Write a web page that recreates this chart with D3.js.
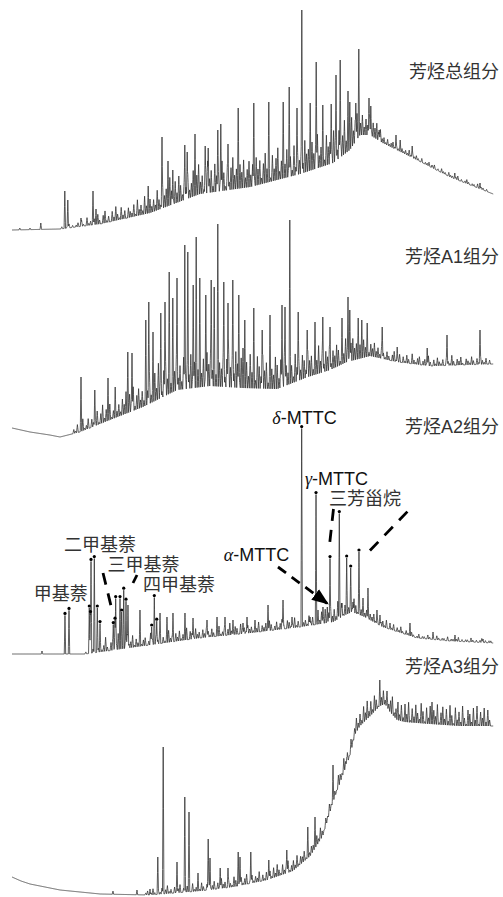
<!DOCTYPE html>
<html>
<head>
<meta charset="utf-8">
<script src="https://cdn.jsdelivr.net/npm/d3@7"></script>
<style>
  html, body { margin: 0; padding: 0; background: #fff; }
  svg { display: block; }
</style>
</head>
<body>
<svg id="chart" width="503" height="897"></svg>
<script>
// ---------------------------------------------------------------
// Aromatic-fraction chromatograms: retention time (min) vs abundance
// ---------------------------------------------------------------

const titles = ["芳烃总组分", "芳烃A1组分", "芳烃A2组分", "芳烃A3组分"];

// --- total aromatic fraction ---
const totBaseT = [0, 8, 14.7, 23, 31.3, 39.7, 48, 53.5, 56.3, 58, 59.7, 61.8, 67.5, 73, 80.2];
const totBaseV = [0.5, 1, 3.5, 9, 18.5, 22, 28.5, 34, 40.5, 48, 48, 44, 35.5, 27, 18.5];
const totPeakT = [1.3, 3, 4.8, 8.8, 9.3, 11.5, 13.5, 14, 22.7, 25, 26, 26.8, 28.8, 29.2, 30.5, 32.2, 32.7,
  34.3, 34.8, 36, 37.7, 40.3, 42.8, 45.2, 46.2, 47.5, 48.3, 49.7, 50.7, 51.8, 53.2, 54, 54.7,
  56, 56.3, 57.3, 57.8, 59.5, 59.8, 61.2, 64, 64.7, 66.7, 70, 73.8, 78];
const totPeakV = [1.5, 1.5, 4, 20, 15.5, 6.5, 20, 11, 22.5, 47, 35, 30.5, 43, 39.5, 48.5, 42.5, 41.5,
  50.5, 53.5, 43.5, 61.5, 64, 64.5, 64.5, 72, 61.5, 110.5, 64, 84.5, 63, 63.5, 78, 85.5,
  70, 64.5, 64, 91, 66.5, 62.5, 50.5, 48, 45.5, 42.5, 33, 29, 24];
// unresolved minor peaks above the baseline, one every 0.3 min from totMinorT0
const totMinorT0 = 8;
const totMinor = [
  0, 1, 0, 0, 1, 2, 0, 1, 0, 1,
  2, 0, 3, 1, 0, 4, 1, 2, 0, 3,
  1, 5, 2, 0, 4, 6, 1, 3, 0, 5, 2, 7, 3, 1, 6, 2, 4, 0, 5, 3,
  2, 6, 1, 8, 3, 5, 2, 9, 4, 1, 7, 3, 6,
  3, 10, 5, 2, 12, 6, 9, 3, 14, 7, 2, 11, 5, 13, 8, 3, 10, 6, 12, 4,
  7, 13, 3, 10, 15, 6, 9, 2, 12, 16, 7, 11, 3, 14, 8, 10, 5, 15, 9, 2, 13, 4, 11, 16, 7, 10, 3, 12, 8, 14, 5, 9, 13,
  6, 11, 4, 14, 8, 12, 3, 10, 15, 7, 9, 2, 13, 6, 11, 16, 4, 9, 12, 7, 14, 5, 10, 3, 15, 4, 11,
  7, 13, 5, 16, 9, 11, 4, 14, 8, 12, 17, 6, 10, 13, 3, 15, 9, 11, 7, 16, 12, 5, 14, 8, 10, 17, 6, 12, 4, 15, 7, 11, 13,
  9, 6, 10, 4, 8, 5, 9, 3, 7, 5, 8, 4, 6,
  2, 3, 1, 3, 1, 2, 3, 1, 2, 1, 3, 2, 1, 2, 1, 3, 1, 2, 1, 2,
  1, 0, 2, 0, 1, 1, 2, 0, 1, 2, 0, 1, 0, 2, 1, 1, 0, 2, 1, 1, 0, 1, 2, 0, 1, 0, 1, 2, 1, 0, 1, 1, 0, 2, 0, 1, 1, 0, 1, 0];

// --- A1 fraction ---
const a1BaseT = [0, 1.5, 3, 6.3, 8, 11.3, 16.3, 21.8, 27.5, 33, 38.5, 44.2, 49.3, 53, 55.8, 59.7, 64.2, 69.7, 80.2];
const a1BaseV = [4.5, 3.5, 2.5, 1, 0, 2.5, 8.5, 15, 23.5, 25.5, 24.5, 24, 30, 33.5, 37.5, 40.5, 37.5, 35.5, 36.5];
const a1PeakT = [11.5, 13.8, 16, 17.2, 19.3, 20, 22.3, 22.8, 23.5, 24.8, 25.5, 26.2, 26.8, 27.5, 28.8, 29.3,
  30.2, 30.7, 31.3, 32.3, 33.2, 33.7, 34.3, 35.3, 36, 36.8, 37.8, 38.8, 40.3, 41.7, 43, 45, 45.5,
  46.3, 47.7, 49.2, 50.5, 51.8, 53, 55, 56, 56.3, 57.7, 58.3, 59.2, 61.7, 64.2, 69.2, 72.5, 78];
const a1PeakV = [30, 23.5, 29.5, 25, 42.5, 42, 58.5, 67.5, 52.5, 62, 67.5, 82.5, 69.5, 79.5, 96, 92.5,
  76, 100, 79.5, 71, 78.5, 75, 106.5, 77.5, 67, 78.5, 71, 58.5, 64.5, 53.5, 61, 66, 65,
  108.5, 62.5, 53.5, 57.5, 60, 55, 59.5, 70, 63.5, 59.5, 58.5, 57, 55, 45, 44.5, 51, 53.5];
const a1MinorT0 = 10;
const a1Minor = [
  0, 2, 1, 4, 0, 3, 6, 1, 2, 5, 0, 4, 2,
  3, 7, 1, 5, 9, 2, 6, 3, 8, 1, 4, 9, 3, 6,
  2, 8, 5, 11, 3, 9, 6, 12, 2, 7, 10, 4, 8,
  3, 12, 7, 16, 4, 10, 14, 6, 18, 9, 3, 13, 17, 8, 11, 5, 15, 10, 18, 6, 12, 4, 16, 9, 14, 7, 17,
  5, 13, 18, 9, 20, 7, 14, 4, 17, 11, 19, 8, 15, 6, 20, 12, 9, 17, 5, 14, 19, 10, 16, 7, 18, 12, 4, 15, 20, 9, 13, 6, 17,
  8, 14, 4, 16, 11, 6, 17, 9, 13, 3, 15, 10, 7, 16, 12, 5, 14, 8, 17, 10,
  6, 13, 9, 3, 14, 7, 11, 5, 12, 9, 4, 13, 8, 10, 3, 12, 7, 14, 6, 11,
  4, 10, 7, 12, 3, 9, 6, 11, 8, 2, 10, 5, 12, 7, 3, 9, 11, 6, 8, 4,
  7, 3, 9, 5, 8, 2, 6, 4, 7, 3, 5, 2, 6,
  3, 1, 4, 2, 0, 3, 5, 1, 2, 4, 0, 3, 1, 4, 2, 0, 5, 2, 1, 3, 4, 0, 2, 3, 1, 5, 2, 0, 3, 1,
  4, 2, 1, 3, 0, 4, 2, 1, 5, 2, 0, 3, 2, 4, 1, 0, 3, 2, 1, 4, 2, 0, 3, 1, 4, 2, 1, 3, 0, 2];

// --- A2 fraction ---
const a2BaseT = [0, 12.2, 14.7, 23, 31.3, 39.7, 48, 53.5, 55.5, 56.7, 58.8, 61.8, 67.5, 73, 80.2];
const a2BaseV = [0.5, 0.5, 1.5, 5, 8.5, 11, 14, 16.5, 20, 21.5, 19, 14, 8.5, 7, 6];
const a2PeakT = [5, 19.33, 21.33, 24.67, 25.83, 26.83, 28.83, 30.17, 32.5, 34.17, 35.5, 36.83, 38.5, 39.17,
  40.5, 42.67, 45.17, 46.67, 49.67, 51, 51.83, 52.55, 55, 56.83, 58.5, 59.33, 60.83, 61.33,
  63, 66.33, 70.17, 73.83, 78.5];
const a2PeakV = [2, 25, 22.5, 21, 19, 21, 21, 18.5, 17.5, 19, 19, 17.5, 16, 19,
  17.5, 25, 27.5, 19, 19, 22.5, 24, 24, 26, 26.5, 28.5, 33.5, 22.5, 20,
  16, 16, 11.5, 10, 8];
// identified compounds (marked with a dot on the apex)
const a2MarkT = [8.83, 9.5,                                   // 甲基萘
  12.88, 13.08, 13.17, 13.72, 14.22, 14.67,                   // 二甲基萘
  16.88, 17.17, 17.28, 18.0, 18.28, 18.62, 19.0,              // 三甲基萘
  23.28, 23.72, 24.12,                                        // 四甲基萘
  48.28, 50.67,                                               // δ-, γ-MTTC
  53.0, 54.55, 55.78, 56.45, 57.83];                          // 三芳甾烷
const a2MarkV = [19.8, 22.3,
  23.5, 20.7, 46.8, 48.2, 23.5, 15.7,
  15.2, 17.4, 28.2, 28.2, 21.5, 32.4, 26.9,
  14, 28.7, 16.9,
  113.2, 80.2,
  48.2, 70.7, 48.5, 43.5, 51.5];
const a2MinorT0 = 12;
const a2Minor = [
  0, 1, 0, 1, 0, 2, 1, 0,
  2, 5, 1, 3, 7, 2, 0, 4, 6, 1, 3, 8, 2, 5, 1, 4, 7, 2, 3, 6, 1, 4,
  2, 5, 1, 3, 4, 0, 2, 6, 3, 1, 4, 2, 5, 0, 3, 1, 4, 6, 2, 3, 0, 4, 2, 5, 1, 3, 2, 6, 0, 4, 3, 1,
  5, 2, 3, 0, 4, 2, 5, 3, 1, 4, 2, 0, 3, 5, 1, 2, 4, 0, 3, 6, 2, 1, 4, 3, 0, 5, 2, 3, 1, 4, 2,
  3, 1, 4, 2, 5, 0, 3, 2, 4, 1, 5, 3, 0, 2, 4, 1, 3, 5, 2, 0, 4, 3, 1, 2, 5, 1, 3, 0, 4, 2, 3, 1, 5, 2, 4, 0, 3,
  4, 2, 6, 3, 7, 1, 5, 8, 3, 6, 2, 9, 4, 7, 1, 5, 8, 3, 6, 2, 7, 4, 1, 5, 3, 6, 2, 4, 1, 3,
  2, 4, 1, 3, 0, 2, 3, 1, 4, 0, 2, 1, 3, 0, 2, 1, 3, 1, 0, 2,
  1, 0, 2, 1, 0, 1, 2, 0, 1, 1, 0, 2, 1, 0, 1, 0, 2, 1, 0, 1, 1, 0, 2, 0, 1, 1, 0, 1, 2, 0,
  1, 0, 1, 1, 0, 2, 1, 0, 1, 0, 1, 2, 0, 1, 0, 1, 1];

// --- A3 fraction ---
const a3BaseT = [0, 1.5, 3, 8, 14.7, 23, 31.3, 36.8, 42.5, 46.8, 49.7, 51.8, 53.5, 55.2, 56.3, 57.2, 58,
  59.7, 61.3, 62.2, 63, 64.2, 65.5, 69.7, 74.7, 80.2];
const a3BaseV = [9.5, 7.5, 6, 3, 1, 0.5, 2.5, 4.5, 8, 12.5, 20, 30, 47, 61, 70, 81, 85,
  90, 95, 96, 92, 88, 87, 86, 85, 85];
const a3PeakT = [16.83, 20.83, 23, 24.3, 25.2, 27.5, 28.8, 29.5, 31, 32.7, 33, 34.7, 36, 37.7, 38, 39.8,
  42.8, 45.8, 49.3, 50.5, 53.5, 55.8, 61.3, 64.33, 70];
const a3PeakV = [2.5, 3, 3.5, 19.5, 74.5, 17, 49.5, 42, 11.5, 28.5, 19, 14, 14, 22, 19.5, 22,
  18, 23, 34.5, 39.5, 65.5, 69.5, 108, 97, 97];
const a3MinorT0 = 22;
const a3Minor = [
  0, 1, 2, 0, 1, 3, 1, 0, 2, 1, 3, 0, 2, 4, 1, 2, 0, 3, 1, 2, 4, 0, 2, 1, 3, 2, 0, 4, 1, 2,
  3, 1, 4, 2, 0, 3, 5, 1, 2, 4, 0, 3, 1, 5, 2, 3, 0, 4, 2, 1, 5, 3, 0, 2, 4, 1, 3, 5, 0, 2,
  4, 1, 3, 2, 5, 0, 3, 1, 4, 2,
  4, 1, 5, 2, 6, 3, 1, 5, 2, 4, 6, 1, 3, 5, 2, 6, 1, 4, 3, 5, 1, 6, 2, 4, 3, 1, 5, 2, 6, 3, 1, 4, 2,
  5, 2, 7, 3, 1, 6, 4, 2, 7, 3, 5, 1, 6, 2, 4, 7, 3,
  6, 2, 8, 4, 9, 3, 7, 2, 8, 5, 1, 9, 4, 7, 2, 8, 3, 6, 9, 2, 5, 8, 3,
  8, 2, 9, 4, 10, 1, 7, 3, 9, 5, 2, 10, 6, 1, 8, 3, 9, 2, 7, 4, 10, 1, 6, 9, 3, 8, 2, 10, 5, 1,
  9, 3, 7, 2, 10, 4, 1, 8, 6, 2, 9, 3, 10, 1, 7, 4, 9, 2, 8, 3];

// --- annotations of the A2 trace (positions in retention time / abundance) ---
const a2LabelText = ["甲基萘", "二甲基萘", "三甲基萘", "四甲基萘"];
const a2LabelT = [8.13, 14.67, 21.9, 27.83];
const a2LabelV = [30.5, 55, 45, 35.25];
const mttcGreek = ["α", "δ", "γ"];
const mttcT = [40.75, 48.75, 54.08];
const mttcV = [50.25, 118.75, 88];
const steraneLabel = { text: "三芳甾烷", t: 58.83, v: 78.25 };
// dashed leader lines [t1, v1, t2, v2]
const leaders = [
  [15.17, 41, 16.67, 22.5],
  [20.83, 40, 20.17, 36],
  [53.58, 73, 52.88, 54],
  [65.9, 71.7, 59.1, 50.5]
];
const arrowLeader = [44.33, 44, 52.67, 25.5];

// ---------------------------------------------------------------
// layout
// ---------------------------------------------------------------
const W = 503, H = 897;
const panelZero = [231, 437, 655, 896];     // pixel row of zero abundance per trace
const titleY = [71.5, 256.5, 426.5, 666.5];
const PX_PER_UNIT = 2;
const PEAK_HW = 0.12;        // half width of a resolved peak (min)
const MINOR_STEP = 0.3;      // spacing of the unresolved minor peaks (min)

const fractions = [
  { baseT: totBaseT, baseV: totBaseV, peakT: totPeakT, peakV: totPeakV, m0: totMinorT0, minor: totMinor },
  { baseT: a1BaseT, baseV: a1BaseV, peakT: a1PeakT, peakV: a1PeakV, m0: a1MinorT0, minor: a1Minor },
  { baseT: a2BaseT, baseV: a2BaseV, peakT: a2PeakT.concat(a2MarkT), peakV: a2PeakV.concat(a2MarkV), m0: a2MinorT0, minor: a2Minor },
  { baseT: a3BaseT, baseV: a3BaseV, peakT: a3PeakT, peakV: a3PeakV, m0: a3MinorT0, minor: a3Minor }
];

const svg = d3.select("#chart");
svg.append("rect").attr("width", W).attr("height", H).attr("fill", "#fff");

const x = d3.scaleLinear().domain([0, 80]).range([12, 492]);
const yScales = panelZero.map(z => d3.scaleLinear().domain([0, 110]).range([z, z - 110 * PX_PER_UNIT]));

// sampled signal: baseline + strongest peak contribution at each time
function buildTrace(f) {
  const baseAt = d3.scaleLinear().domain(f.baseT).range(f.baseV).clamp(true);
  const tEnd = f.baseT[f.baseT.length - 1];
  const tris = f.peakT.map((t, i) => ({ c: t, a: Math.max(0, f.peakV[i] - baseAt(t)), w: PEAK_HW }));
  f.minor.forEach((a, i) => tris.push({ c: f.m0 + i * MINOR_STEP, a: a, w: MINOR_STEP / 2 }));

  const ts = new Set();
  for (let k = 0; k <= Math.round(tEnd / 0.05); k++) ts.add(+(k * 0.05).toFixed(4));
  tris.forEach(p => { ts.add(+p.c.toFixed(4)); ts.add(+(p.c - p.w).toFixed(4)); ts.add(+(p.c + p.w).toFixed(4)); });
  const arr = [...ts].filter(t => t >= 0 && t <= tEnd).sort((a, b) => a - b);

  return arr.map(t => {
    let m = 0;
    for (const p of tris) {
      const d = Math.abs(t - p.c);
      if (d < p.w) { const h = p.a * (1 - d / p.w); if (h > m) m = h; }
    }
    return [t, baseAt(t) + m];
  });
}

fractions.forEach((f, i) => {
  const y = yScales[i];
  const line = d3.line().x(d => x(d[0])).y(d => y(d[1]));
  svg.append("path")
    .attr("d", line(buildTrace(f)))
    .attr("fill", "none")
    .attr("stroke", "#333")
    .attr("stroke-width", 0.8)
    .attr("stroke-linejoin", "miter");
});

const cjkFont = "'Liberation Sans', 'Noto Sans CJK SC', sans-serif";

// fraction titles
svg.selectAll("text.title").data(titles).enter().append("text")
  .attr("class", "title")
  .attr("x", 499).attr("y", (d, i) => titleY[i])
  .attr("text-anchor", "end").attr("dominant-baseline", "central")
  .attr("font-family", cjkFont).attr("font-size", 18).attr("fill", "#333")
  .text(d => d);

// A2 annotations
const yA2 = yScales[2];
svg.selectAll("circle.mark").data(a2MarkT).enter().append("circle")
  .attr("class", "mark")
  .attr("cx", d => x(d)).attr("cy", (d, i) => yA2(a2MarkV[i]) - 2)
  .attr("r", 1.6).attr("fill", "#000");

svg.selectAll("text.cmp").data(a2LabelText).enter().append("text")
  .attr("class", "cmp")
  .attr("x", (d, i) => x(a2LabelT[i])).attr("y", (d, i) => yA2(a2LabelV[i]))
  .attr("text-anchor", "middle").attr("dominant-baseline", "central")
  .attr("font-family", cjkFont).attr("font-size", 18).attr("fill", "#333")
  .text(d => d);

svg.append("text")
  .attr("x", x(steraneLabel.t)).attr("y", yA2(steraneLabel.v))
  .attr("text-anchor", "middle").attr("dominant-baseline", "central")
  .attr("font-family", cjkFont).attr("font-size", 18).attr("fill", "#333")
  .text(steraneLabel.text);

mttcGreek.forEach((g, i) => {
  const t = svg.append("text")
    .attr("x", x(mttcT[i])).attr("y", yA2(mttcV[i]))
    .attr("text-anchor", "middle").attr("dominant-baseline", "central")
    .attr("font-size", 18).attr("fill", "#111");
  t.append("tspan").attr("font-family", "'Liberation Serif', serif").attr("font-style", "italic").text(g);
  t.append("tspan").attr("font-family", "'Liberation Sans', Arial, sans-serif").text("-MTTC");
});

svg.selectAll("line.leader").data(leaders).enter().append("line")
  .attr("class", "leader")
  .attr("x1", d => x(d[0])).attr("y1", d => yA2(d[1]))
  .attr("x2", d => x(d[2])).attr("y2", d => yA2(d[3]))
  .attr("stroke", "#000").attr("stroke-width", 2.8)
  .attr("stroke-dasharray", "12,9");

// dashed arrow towards α-MTTC
const defs = svg.append("defs");
defs.append("marker")
  .attr("id", "head").attr("markerUnits", "userSpaceOnUse")
  .attr("viewBox", "0 -7 17 14").attr("refX", 16).attr("refY", 0)
  .attr("markerWidth", 17).attr("markerHeight", 14).attr("orient", "auto")
  .append("path").attr("d", "M0,-6.5L17,0L0,6.5Z").attr("fill", "#000");

svg.append("line")
  .attr("x1", x(arrowLeader[0])).attr("y1", yA2(arrowLeader[1]))
  .attr("x2", x(arrowLeader[2])).attr("y2", yA2(arrowLeader[3]))
  .attr("stroke", "#000").attr("stroke-width", 2.8)
  .attr("stroke-dasharray", "10,7")
  .attr("marker-end", "url(#head)");
</script>
</body>
</html>
